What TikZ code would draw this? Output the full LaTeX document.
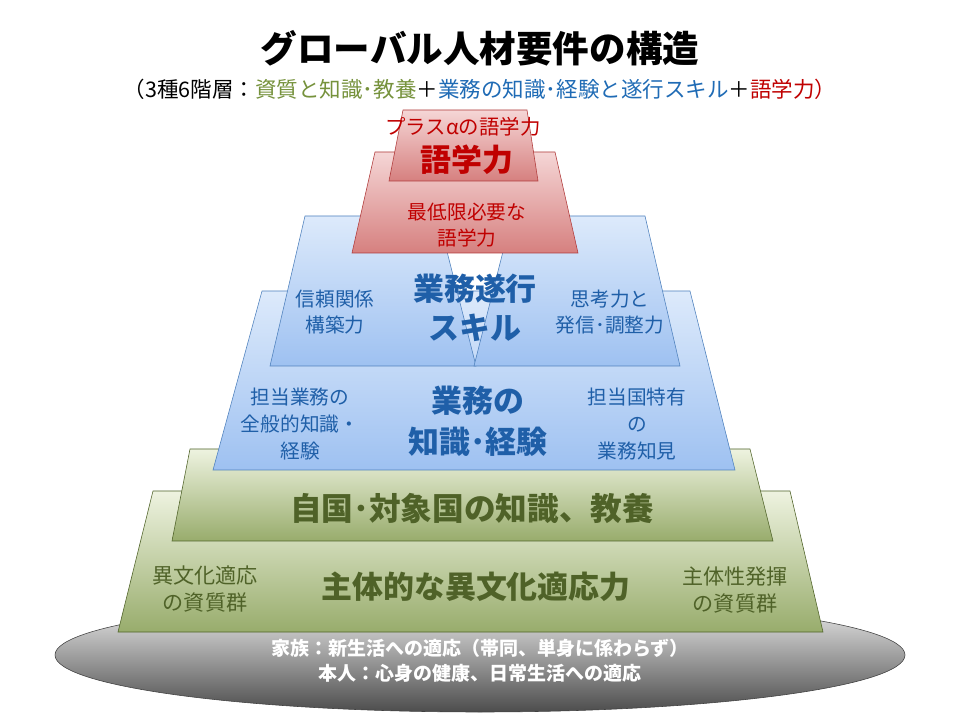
\documentclass[tikz,border=0pt]{standalone}
\usepackage{fontspec}
\setmainfont{Noto Sans CJK JP}
\definecolor{redtext}{HTML}{C00000}
\definecolor{redline}{HTML}{B03A3A}
\definecolor{redtop}{HTML}{F5D6D6}
\definecolor{redbot}{HTML}{D6807F}
\definecolor{bluetext}{HTML}{1F5FA8}
\definecolor{blueline}{HTML}{4F81BD}
\definecolor{bluetop}{HTML}{DDEAFB}
\definecolor{bluebot}{HTML}{9EC1F1}
\definecolor{greentext}{HTML}{4F6228}
\definecolor{greenline}{HTML}{4F6228}
\definecolor{greentop}{HTML}{EEF3E0}
\definecolor{greenbot}{HTML}{98AC6C}
\definecolor{subgreen}{HTML}{76923C}
\definecolor{subblue}{HTML}{1F6BB5}

\begin{document}
\begin{tikzpicture}[x=0.025cm,y=-0.025cm,
  redlayer/.style={draw=redline,top color=redtop,bottom color=redbot},
  bluelayer/.style={draw=blueline,top color=bluetop,bottom color=bluebot},
  greenlayer/.style={draw=greenline,top color=greentop,bottom color=greenbot},
  baselayer/.style={draw=black!75,top color=black!5,bottom color=black!70},
  small/.style={inner sep=0pt,align=center,font=\fontsize{14}{19}\selectfont},
  big/.style={inner sep=0pt,align=center,font=\fontsize{22}{29}\selectfont\bfseries},
  basetext/.style={inner sep=0pt,text=white,font=\fontsize{13.5}{15}\selectfont\bfseries}]
  \fill[white] (0,0) rectangle (960,720);
  \useasboundingbox (0,0) rectangle (960,720);

  \node[inner sep=0pt,font=\fontsize{26}{30}\selectfont\bfseries] (title) at (480,48) {グローバル人材要件の構造};
  \node[inner sep=0pt,font=\fontsize{15.3}{18}\selectfont] (subtitle) at (480,89)
    {（3種6階層：\textcolor{subgreen}{資質と知識･教養}＋\textcolor{subblue}{業務の知識･経験と遂行スキル}＋\textcolor{redtext}{語学力）}};

  \draw[baselayer] (480,655) ellipse (425 and 57);
  \draw[greenlayer] (153,491) -- (790,491) -- (823,632) -- (118,632) -- cycle;
  \draw[greenlayer] (190,449) -- (750,449) -- (773,541) -- (172,541) -- cycle;
  \draw[bluelayer] (262,291) -- (690,291) -- (735,470) -- (213,470) -- cycle;
  \draw[bluelayer] (305,216) -- (438,216) -- (476,366) -- (270,366) -- cycle;
  \draw[bluelayer] (512,216) -- (645,216) -- (680,366) -- (474,366) -- cycle;
  \draw[redlayer] (375,152) -- (555,152) -- (578,253) -- (352,253) -- cycle;
  \draw[redlayer] (403,110) -- (527,110) -- (538,181) -- (389,181) -- cycle;

  \node[small,text=redtext,font=\fontsize{14.5}{19}\selectfont] (plus) at (463,127) {プラスαの語学力};
  \node[big,text=redtext] (lang) at (467,160) {語学力};
  \node[small,text=redtext] (minlang) at (467,225) {最低限必要な\\語学力};

  \node[small,text=bluetext] (trust) at (335,312) {信頼関係\\構築力};
  \node[big,text=bluetext,font=\fontsize{22}{28}\selectfont\bfseries] (skill) at (475,308) {業務遂行\\スキル};
  \node[small,text=bluetext] (think) at (610,312) {思考力と\\発信･調整力};

  \node[small,text=bluetext] (general) at (300,424) {担当業務の\\全般的知識・\\経験};
  \node[big,text=bluetext] (work) at (478,421) {業務の\\知識･経験};
  \node[small,text=bluetext] (local) at (637,424) {担当国特有\\の\\業務知見};

  \node[big,text=greentext,font=\fontsize{22.5}{29}\selectfont\bfseries] (culture) at (472,508) {自国･対象国の知識、教養};

  \node[small,text=greentext,font=\fontsize{15}{19}\selectfont] (adapt) at (205,589) {異文化適応\\の資質群};
  \node[big,text=greentext] (core) at (476,587) {主体的な異文化適応力};
  \node[small,text=greentext,font=\fontsize{15}{19}\selectfont] (initiative) at (735,590) {主体性発揮\\の資質群};

  \node[basetext] (family) at (480,648) {家族：新生活への適応（帯同、単身に係わらず）};
  \node[basetext] (self) at (480,673) {本人：心身の健康、日常生活への適応};
\end{tikzpicture}
\end{document}
